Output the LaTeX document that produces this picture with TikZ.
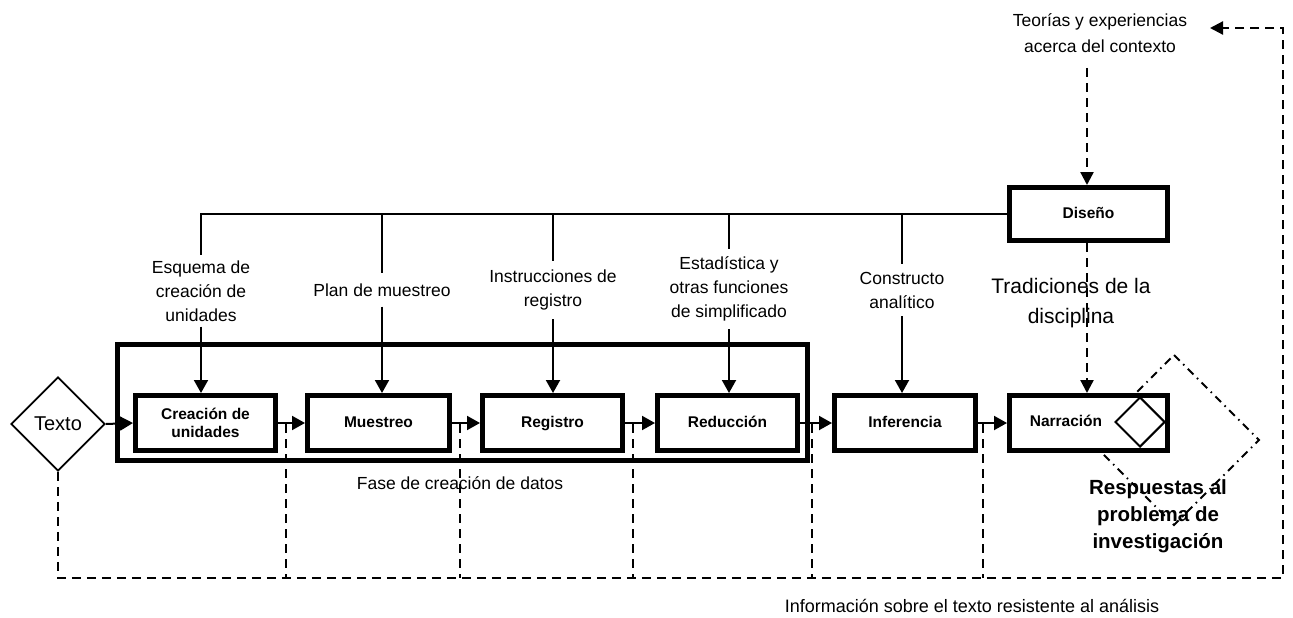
\documentclass[tikz,border=0pt]{standalone}
\usepackage{fontspec}
\setmainfont{Liberation Sans}
\usetikzlibrary{shapes.geometric,arrows.meta}
\begin{document}
\begin{tikzpicture}[x=1pt,y=-1pt,
  box/.style={draw, line width=5pt, fill=white, minimum height=55pt, inner sep=2pt,
    font=\bfseries\fontsize{15.5}{18}\selectfont, align=center},
  onebox/.style={box, text height=11pt, text depth=3pt},
  lbl/.style={font=\fontsize{17.5}{24}\selectfont, align=center, inner xsep=3pt, inner ysep=5pt},
  thinline/.style={line width=2pt},
  arr/.style={line width=2pt, -{Triangle[length=13pt,width=14pt]}},
  dsh/.style={line width=2.3pt, dash pattern=on 9pt off 6pt},
  dshdot/.style={line width=2pt, dash pattern=on 8pt off 5pt on 1.5pt off 5pt},
]
\fill[white] (0,0) rectangle (1293,618);
\useasboundingbox (0,0) rectangle (1293,618);

% dashed feedback network (behind everything)
\node[diamond, draw, line width=1.8pt, minimum width=94pt, minimum height=94pt, inner sep=0pt,
  font=\fontsize{20}{22}\selectfont, fill=white] (texto) at (58,424) {Texto};
\coordinate (ret) at (1210,28);
\draw[dsh, -{Triangle[length=13pt,width=13pt]}] (texto.south) |- (1283,578) |- (ret);
\foreach \x/\n in {286/a,460/b,633/c,812/d,983/e}{
  \coordinate (dt\n) at (\x,424);
  \coordinate (db\n) at (\x,578);
  \draw[dsh] (dt\n) -- (db\n);
}

% big dash-dot diamond behind Narracion
\draw[dshdot] (1174,355) -- (1259,440) -- (1174,525) -- (1089,440) -- cycle;

% frame of data creation phase
\node[draw, line width=5pt, minimum width=690pt, minimum height=116pt, inner sep=0pt] (frame) at (462.5,402.5) {};
\node[font=\fontsize{17.5}{24}\selectfont] (fase) at (460,483) {Fase de creación de datos};

% boxes
\node[box, minimum width=140pt] (c1) at (205.5,423) {Creación de\\unidades};
\node[onebox, minimum width=142pt] (c2) at (378.5,423) {Muestreo};
\node[onebox, minimum width=140pt] (c3) at (552.5,423) {Registro};
\node[onebox, minimum width=140pt] (c4) at (727.5,423) {Reducción};
\node[onebox, minimum width=141pt] (c5) at (905,423) {Inferencia};
\node[box, minimum width=158pt] (narr) at (1088.5,423) {};
\node[font=\bfseries\fontsize{15.5}{18}\selectfont, text height=11pt, text depth=3pt] (narrtxt) at (1066,422) {Narración};
\node[diamond, draw, line width=2pt, minimum width=50pt, minimum height=50pt, inner sep=0pt] (small) at (1140,422) {};
\node[onebox, minimum width=158pt, minimum height=53pt] (dis) at (1088.5,214) {Diseño};

% horizontal flow arrows
\draw[arr] (texto.east) -- (c1.west);
\draw[arr] (c1.east) -- (c2.west);
\draw[arr] (c2.east) -- (c3.west);
\draw[arr] (c3.east) -- (c4.west);
\draw[arr] (c4.east) -- (c5.west);
\draw[arr] (c5.east) -- (narr.west);

% labels from design
\node[lbl] (l1) at (201,291) {Esquema de\\creación de\\unidades};
\node[lbl, inner ysep=10pt] (l2) at (382,290) {Plan de muestreo};
\node[lbl, inner ysep=9pt] (l3) at (553,290) {Instrucciones de\\registro};
\node[lbl, inner ysep=8pt] (l4) at (729,289) {Estadística y\\otras funciones\\de simplificado};
\node[lbl, inner ysep=8pt] (l5) at (902,290) {Constructo\\analítico};

\coordinate (b1) at (201,214);
\coordinate (b2) at (382,214);
\coordinate (b3) at (553,214);
\coordinate (b4) at (729,214);
\coordinate (b5) at (902,214);
\draw[thinline] (dis.west) -- (b1) -- (l1.north);
\draw[thinline] (b2) -- (l2.north);
\draw[thinline] (b3) -- (l3.north);
\draw[thinline] (b4) -- (l4.north);
\draw[thinline] (b5) -- (l5.north);
\draw[arr] (l1.south) -- (l1.south |- c1.north);
\draw[arr] (l2.south) -- (l2.south |- c2.north);
\draw[arr] (l3.south) -- (l3.south |- c3.north);
\draw[arr] (l4.south) -- (l4.south |- c4.north);
\draw[arr] (l5.south) -- (l5.south |- c5.north);

% theories and traditions
\node[font=\fontsize{17.5}{26}\selectfont, align=center] (teo) at (1100,33) {Teorías y experiencias\\acerca del contexto};
\coordinate (teob) at (1087,68);
\draw[dsh, -{Triangle[length=13pt,width=13pt]}] (teob) -- (teob |- dis.north);
\draw[dsh, -{Triangle[length=13pt,width=13pt]}] (teob |- dis.south) -- (teob |- narr.north);
\node[font=\fontsize{21}{30}\selectfont, align=center] (trad) at (1071,303) {Tradiciones de la\\disciplina};

% answers
\node[font=\bfseries\fontsize{20.5}{27}\selectfont, align=center] (resp) at (1158,516) {Respuestas al\\problema de\\investigación};

% bottom caption
\node[font=\fontsize{18}{22}\selectfont] (info) at (972,606) {Información sobre el texto resistente al análisis};
\end{tikzpicture}
\end{document}
